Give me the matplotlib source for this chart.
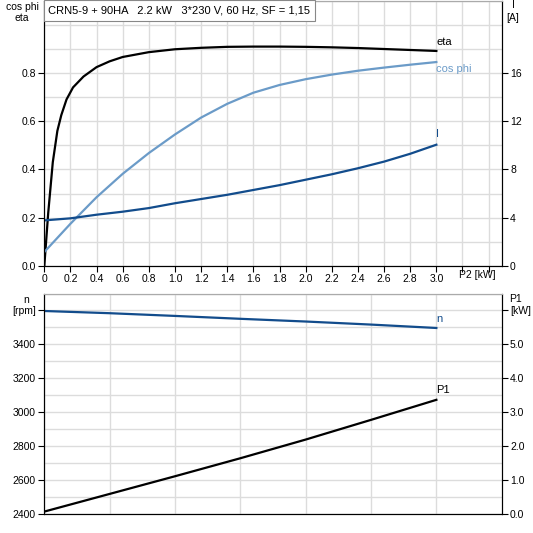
import matplotlib
matplotlib.use("Agg")
import matplotlib.pyplot as plt
from matplotlib.patches import Rectangle

plt.rcParams["font.family"] = ["Liberation Sans", "DejaVu Sans"]
plt.rcParams["font.size"] = 7.5

p2_eta = [0.0, 0.03, 0.065, 0.1, 0.13, 0.17, 0.22, 0.3, 0.4, 0.5, 0.6, 0.8, 1.0,
          1.2, 1.4, 1.6, 1.8, 2.0, 2.2, 2.4, 2.6, 2.8, 3.0]
eta = [0.0, 0.22, 0.43, 0.56, 0.625, 0.69, 0.74, 0.785, 0.824, 0.848, 0.866,
       0.886, 0.898, 0.904, 0.908, 0.909, 0.909, 0.908, 0.906, 0.903, 0.899,
       0.895, 0.891]

p2 = [0.0, 0.2, 0.4, 0.6, 0.8, 1.0, 1.2, 1.4, 1.6, 1.8, 2.0, 2.2, 2.4, 2.6, 2.8, 3.0]
cos_phi = [0.058, 0.175, 0.285, 0.382, 0.468, 0.545, 0.615, 0.672, 0.718, 0.75,
           0.774, 0.793, 0.809, 0.822, 0.834, 0.845]
current = [3.78, 3.95, 4.25, 4.5, 4.8, 5.2, 5.55, 5.9, 6.3, 6.7, 7.15, 7.6, 8.1,
           8.65, 9.3, 10.05]

p2_bottom = [0.0, 0.5, 1.0, 1.5, 2.0, 2.5, 3.0]
speed = [3597, 3584, 3568, 3551, 3535, 3517, 3497]
p1 = [0.08, 0.6, 1.12, 1.65, 2.2, 2.78, 3.37]

title = "CRN5-9 + 90HA   2.2 kW   3*230 V, 60 Hz, SF = 1,15"

black = "#000000"
light_blue = "#6b9bc8"
dark_blue = "#124c8c"
grid_col = "#dcdcdc"

W = 533.0


def box(left, top, right, bottom):
    return [left / W, 1 - bottom / W, (right - left) / W, (bottom - top) / W]


fig = plt.figure(figsize=(5.33, 5.33), dpi=100)

# ---- top chart: eta, cos phi, I ----
ax = fig.add_axes(box(44.3, 0.5, 501.7, 266))
ax.set_xlim(0, 3.5)
ax.set_ylim(0, 1.1)
ax.set_xticks([i * 0.2 for i in range(18)], minor=False)
ax.set_xticklabels(["0"] + ["%.1f" % (i * 0.2) for i in range(1, 16)] + ["", ""])
ax.set_yticks([0, 0.2, 0.4, 0.6, 0.8])
ax.set_yticklabels(["0.0", "0.2", "0.4", "0.6", "0.8"])
ax.set_yticks([i * 0.1 for i in range(12)], minor=True)
ax.grid(True, which="both", color=grid_col, lw=1.0)
ax.tick_params(which="minor", length=0)
ax.tick_params(which="major", length=4, width=0.8, pad=2)
ax.set_axisbelow(True)

ax.plot(p2_eta, eta, color=black, lw=1.6)
ax.plot(p2, cos_phi, color=light_blue, lw=1.6)
ax.plot(p2, [c / 20 for c in current], color=dark_blue, lw=1.6)

ax.text(3.0, 0.93, "eta", color=black, va="center", ha="left", fontsize=8)
ax.text(3.0, 0.816, "cos phi", color=light_blue, va="center", ha="left", fontsize=8)
ax.text(3.0, 0.545, "I", color=dark_blue, va="center", ha="left", fontsize=8)
ax.text(3.31, -0.038, "P2 [kW]", ha="center", va="center")

axr = ax.twinx()
axr.set_ylim(0, 22)
axr.set_yticks([0, 4, 8, 12, 16])
axr.tick_params(length=4, width=0.8, pad=2)

for a in (ax, axr):
    a.spines["top"].set_color("#aaaaaa")

# title box in the top left corner of the plot area
fig.patches.append(Rectangle((44.3 / W, 1 - 20.7 / W), (315 - 44.3) / W, 20.5 / W,
                             transform=fig.transFigure, facecolor="white",
                             edgecolor="#888888", lw=0.8, zorder=5))
fig.text(48.5 / W, 1 - 10.5 / W, title, ha="left", va="center", fontsize=8, zorder=6)

fig.text(22 / W, 1 - 7 / W, "cos phi", ha="center", va="center")
fig.text(22 / W, 1 - 18 / W, "eta", ha="center", va="center")
fig.text(513 / W, 1 - 5 / W, "I", ha="center", va="center")
fig.text(513 / W, 1 - 18 / W, "[A]", ha="center", va="center")

# ---- bottom chart: n, P1 ----
bx = fig.add_axes(box(44.3, 293.5, 501.7, 514.3))
bx.set_xlim(0, 3.5)
bx.set_ylim(2400, 3700)
bx.set_xticks([0, 0.5, 1.0, 1.5, 2.0, 2.5, 3.0])
bx.set_xticklabels([])
bx.tick_params(axis="x", length=0)
bx.set_yticks([2400, 2600, 2800, 3000, 3200, 3400, 3600])
bx.set_yticklabels(["2400", "2600", "2800", "3000", "3200", "3400", "[rpm]"])
bx.set_yticks(range(2400, 3701, 100), minor=True)
bx.grid(True, which="both", color=grid_col, lw=1.0)
bx.tick_params(which="minor", length=0)
bx.tick_params(axis="y", which="major", length=4, width=0.8, pad=2)
bx.set_axisbelow(True)

bx.plot(p2_bottom, speed, color=dark_blue, lw=1.6)
bx.plot(p2_bottom, [2400 + v * 200 for v in p1], color=black, lw=1.6)
bx.text(3.0, 3550, "n", color=dark_blue, va="center", ha="left", fontsize=8)
bx.text(3.0, 3132, "P1", color=black, va="center", ha="left", fontsize=8)

bxr = bx.twinx()
bxr.set_ylim(0, 6.5)
bxr.set_yticks([0, 1, 2, 3, 4, 5, 6])
bxr.set_yticklabels(["0.0", "1.0", "2.0", "3.0", "4.0", "5.0", "[kW]"])
bxr.tick_params(length=4, width=0.8, pad=2)

for a in (bx, bxr):
    a.spines["top"].set_color("#aaaaaa")

fig.text(26 / W, 1 - 300 / W, "n", ha="center", va="center")
fig.text(516 / W, 1 - 299.5 / W, "P1", ha="center", va="center")

fig.savefig("out.png", dpi=100)
